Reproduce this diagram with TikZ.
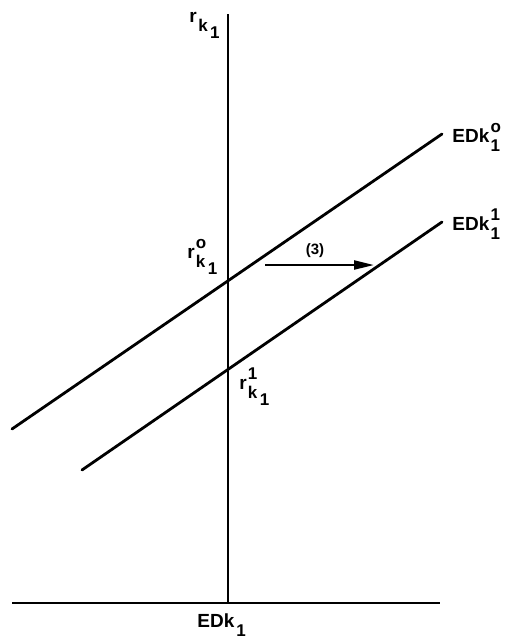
\documentclass[tikz,border=0pt]{standalone}
\usepackage{fontspec}
\setmainfont{Liberation Sans}
\usepackage{tikz}
\usetikzlibrary{arrows.meta,positioning}
\tikzset{
  curve/.style={line width=1.4pt, line cap=round},
  axis/.style={line width=0.8pt},
  lbl/.style={inner sep=0pt, font=\fontsize{9.5}{11}\selectfont\bfseries},
}
% label pieces: superscript over subscript, and a lowered k_1
\newcommand{\subsz}{\fontsize{8.5}{10}\selectfont}
\newcommand{\supsub}[2]{\kern0.6pt\makebox[0pt][l]{\raisebox{5pt}{\subsz #1}}\raisebox{-4.5pt}{\subsz #2}}
\newcommand{\kone}{k\kern1.2pt\raisebox{-3.5pt}{1}}

\begin{document}
\begin{tikzpicture}[x=0.5pt, y=-0.5pt]
  \useasboundingbox (0,0) rectangle (518,644);
  % Axes
  \coordinate (ytop) at (228,14);
  \coordinate (orig) at (228,603);
  \coordinate (xl) at (12,603);
  \coordinate (xr) at (440,603);
  \draw[axis] (ytop) -- (orig);
  \draw[axis] (xl) -- (xr);
  \node[lbl, anchor=base west] (ylab) at (189,22) {r\kern0.8pt\raisebox{-4.5pt}{\subsz\kone}};
  \node[lbl, anchor=base west] (xlab) at (197,627) {EDk\kern1pt\raisebox{-4.5pt}{\subsz 1}};
  % Demand schedules
  \coordinate (d0s) at (12,429);
  \coordinate (d0e) at (442,134);
  \coordinate (d1s) at (82,470);
  \coordinate (d1e) at (442,222);
  \draw[curve] (d0s) -- (d0e);
  \draw[curve] (d1s) -- (d1e);
  \node[lbl, anchor=base west] (d0lab) at (452,142) {EDk\supsub{o}{1}};
  \node[lbl, anchor=base west] (d1lab) at (452,230) {EDk\supsub{1}{1}};
  % Rates
  \node[lbl, anchor=base west] (r0) at (187,258) {r\supsub{o}{\kone}};
  \node[lbl, anchor=base west] (r1) at (239,389) {r\supsub{1}{\kone}};
  % Shift (3)
  \coordinate (sa) at (265,265);
  \coordinate (sb) at (374,265);
  \draw[line width=1.2pt, -{Triangle[length=10pt, width=4.5pt]}] (sa) -- (sb);
  \node[font=\fontsize{7.5}{9}\selectfont\bfseries] (shift) at (315,251) {(3)};
\end{tikzpicture}
\end{document}
